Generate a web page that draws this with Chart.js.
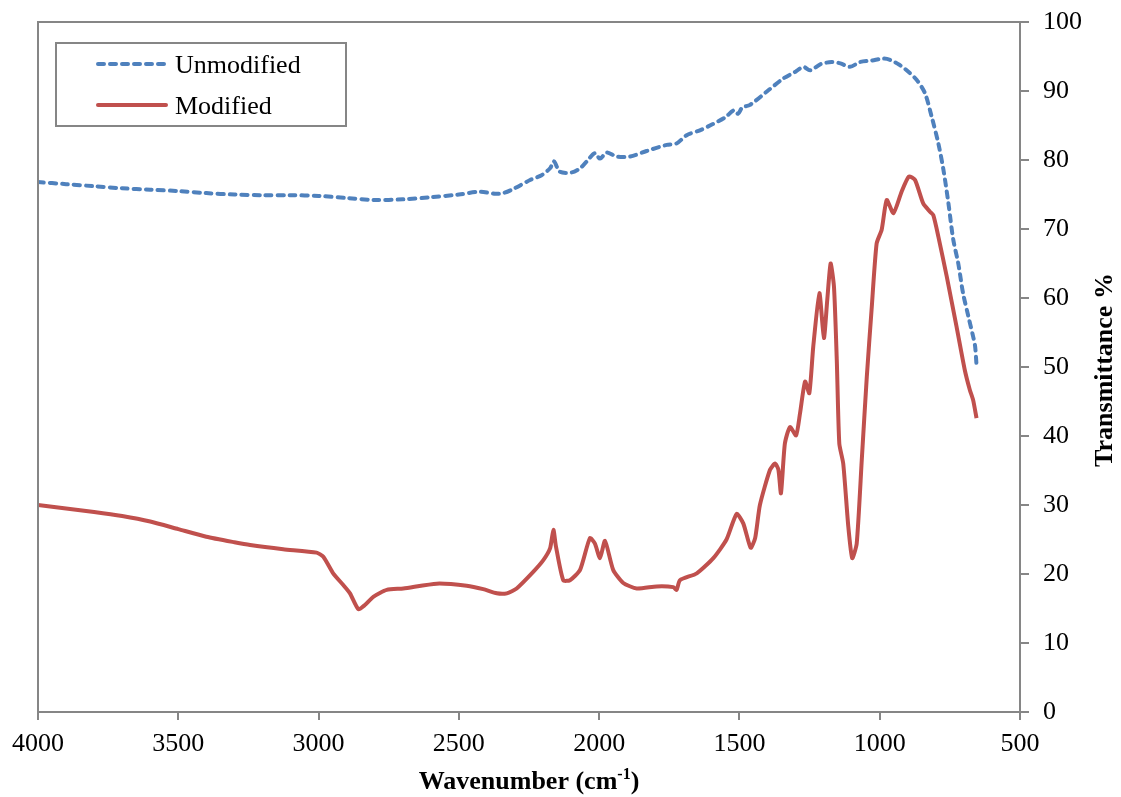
<!DOCTYPE html>
<html>
<head>
<meta charset="utf-8">
<title>FTIR spectra</title>
<script src="https://cdn.jsdelivr.net/npm/chart.js@4"></script>
<style>
  body { margin: 0; background: #fff; }
  #canvas { display: block; }
</style>
</head>
<body>
<canvas id="canvas" width="1121" height="797"></canvas>
<script>
// wavenumber (cm-1) and transmittance (%) for each sample
const unmodWave = [4000, 3900, 3800, 3700, 3600, 3500, 3400, 3300, 3200, 3100, 3000, 2900, 2800, 2700, 2600, 2500,
    2425, 2371, 2342, 2306, 2246, 2205, 2175, 2161, 2140, 2098, 2068, 2044, 2015, 1997, 1973, 1938, 1890, 1831,
    1759, 1724, 1688, 1641, 1600, 1550, 1520, 1505, 1490, 1462, 1400, 1344, 1300, 1272, 1248, 1210, 1171, 1140,
    1106, 1070, 1030, 987, 963, 930, 904, 868, 839, 815, 791, 773, 755, 738, 720, 703, 685, 667, 660, 655];
const unmodT = [76.8, 76.5, 76.2, 75.9, 75.7, 75.5, 75.2, 75.0, 74.9, 74.9, 74.8, 74.5, 74.2, 74.3, 74.6, 75.0,
    75.4, 75.1, 75.2, 75.8, 77.1, 77.8, 78.8, 79.8, 78.3, 78.2, 78.8, 79.8, 81.0, 80.2, 81.1, 80.5, 80.5, 81.3,
    82.2, 82.4, 83.6, 84.3, 85.1, 86.2, 87.2, 86.7, 87.6, 88.0, 90.0, 91.8, 92.8, 93.5, 93.0, 93.9, 94.2, 94.0,
    93.5, 94.2, 94.4, 94.7, 94.5, 93.8, 93.0, 91.6, 89.7, 86.3, 82.4, 78.6, 73.7, 68.5, 65.0, 60.7, 57.5, 54.4, 53.0, 50.3];

const modWave = [4000, 3900, 3800, 3700, 3600, 3500, 3400, 3300, 3244, 3126, 3007, 2983, 2948, 2912, 2888, 2858,
    2835, 2805, 2757, 2698, 2579, 2472, 2413, 2365, 2329, 2294, 2235, 2199, 2175, 2163, 2154, 2128, 2104, 2068,
    2033, 2015, 1997, 1979, 1950, 1914, 1866, 1795, 1736, 1724, 1712, 1652, 1593, 1546, 1510, 1486, 1460, 1444,
    1427, 1391, 1373, 1361, 1352, 1338, 1320, 1298, 1284, 1266, 1251, 1237, 1215, 1199, 1187, 1175, 1163, 1153,
    1144, 1130, 1112, 1098, 1082, 1064, 1046, 1029, 1011, 993, 975, 951, 922, 896, 874, 845, 821, 809, 791, 761,
    726, 697, 679, 667, 655];
const modT = [30.0, 29.5, 29.0, 28.4, 27.6, 26.5, 25.4, 24.6, 24.2, 23.6, 23.1, 22.5, 20.1, 18.4, 17.2, 14.9,
    15.5, 16.7, 17.7, 17.9, 18.6, 18.3, 17.8, 17.2, 17.2, 17.9, 20.3, 22.0, 23.7, 26.4, 24.0, 19.1, 19.1, 20.6,
    25.2, 24.4, 22.3, 24.8, 20.6, 18.7, 17.9, 18.2, 18.1, 17.7, 19.1, 20.1, 22.3, 25.0, 28.7, 27.3, 23.8, 25.2,
    30.0, 35.1, 36.0, 35.1, 31.7, 38.9, 41.3, 40.1, 43.3, 47.9, 46.2, 52.9, 60.7, 54.2, 59.7, 65.0, 61.6, 51.0,
    38.9, 36.0, 26.9, 22.3, 24.4, 36.5, 48.6, 58.3, 67.9, 69.9, 74.2, 72.3, 75.4, 77.6, 77.1, 73.7, 72.5, 72.0,
    68.9, 63.1, 55.8, 49.6, 46.7, 45.2, 42.6];

const xTicks = [4000, 3500, 3000, 2500, 2000, 1500, 1000, 500];
const yTicks = [0, 10, 20, 30, 40, 50, 60, 70, 80, 90, 100];

const seriesNames = ['Unmodified', 'Modified'];
const blue = '#4F81BD';
const red = '#C0504D';
const axisGrey = '#868686';
const serif = "'Liberation Serif', 'Times New Roman', serif";

function toPoints(xs, ys) {
    return xs.map((x, i) => ({ x: x, y: ys[i] }));
}

// box around the plot, legend inside it, and both axis titles
const decorations = {
    id: 'decorations',
    afterDraw(chart) {
        const ctx = chart.ctx;
        const area = chart.chartArea;
        ctx.save();

        ctx.strokeStyle = axisGrey;
        ctx.lineWidth = 2;
        ctx.strokeRect(area.left, area.top, area.right - area.left, area.bottom - area.top);

        // legend
        const lx = area.left + 18, ly = area.top + 21;
        ctx.fillStyle = '#fff';
        ctx.fillRect(lx, ly, 290, 83);
        ctx.strokeRect(lx, ly, 290, 83);
        chart.data.datasets.forEach((ds, i) => {
            const y = ly + 21 + i * 41;
            ctx.beginPath();
            ctx.strokeStyle = ds.borderColor;
            ctx.lineWidth = ds.borderWidth;
            ctx.lineCap = 'round';
            ctx.setLineDash(ds.borderDash || []);
            ctx.moveTo(lx + 42, y);
            ctx.lineTo(lx + 110, y);
            ctx.stroke();
            ctx.setLineDash([]);
            ctx.fillStyle = '#000';
            ctx.font = '26px ' + serif;
            ctx.textBaseline = 'alphabetic';
            ctx.textAlign = 'left';
            ctx.fillText(ds.label, lx + 119, y + 9);
        });

        // y title, reading upwards
        ctx.fillStyle = '#000';
        ctx.font = 'bold 26px ' + serif;
        ctx.textAlign = 'center';
        ctx.textBaseline = 'middle';
        ctx.translate(1105, (area.top + area.bottom) / 2 + 3);
        ctx.rotate(-Math.PI / 2);
        ctx.fillText('Transmittance %', 0, 0);
        ctx.setTransform(1, 0, 0, 1, 0, 0);

        // x title with superscript
        const big = 'bold 26px ' + serif, small = 'bold 16px ' + serif;
        const parts = [['Wavenumber (cm', big, 0], ['-1', small, -10], [')', big, 0]];
        let total = 0;
        parts.forEach(p => { ctx.font = p[1]; total += ctx.measureText(p[0]).width; });
        let x = (area.left + area.right) / 2 - total / 2;
        ctx.textAlign = 'left';
        ctx.textBaseline = 'alphabetic';
        parts.forEach(p => {
            ctx.font = p[1];
            ctx.fillText(p[0], x, 789 + p[2]);
            x += ctx.measureText(p[0]).width;
        });
        ctx.restore();
    }
};

const ctx = document.getElementById('canvas').getContext('2d');
const myChart = new Chart(ctx, {
    type: 'line',
    data: {
        datasets: [
            {
                label: seriesNames[0],
                data: toPoints(unmodWave, unmodT),
                borderColor: blue,
                borderWidth: 4,
                borderDash: [6, 6],
                borderCapStyle: 'round',
                pointRadius: 0,
                tension: 0.3,
                fill: false
            },
            {
                label: seriesNames[1],
                data: toPoints(modWave, modT),
                borderColor: red,
                borderWidth: 4,
                pointRadius: 0,
                tension: 0.2,
                fill: false
            }
        ]
    },
    options: {
        responsive: false,
        animation: false,
        layout: { padding: { left: 38, top: 22, right: 0, bottom: 0 } },
        plugins: {
            legend: { display: false },
            tooltip: { enabled: false }
        },
        scales: {
            x: {
                type: 'linear',
                reverse: true,
                min: 500,
                max: 4000,
                afterBuildTicks: scale => { scale.ticks = xTicks.map(v => ({ value: v })); },
                afterFit: scale => {
                    scale.height = 85;
                    scale.paddingLeft = 0;
                    scale.paddingRight = 0;
                },
                grid: { drawOnChartArea: false, drawTicks: true, tickLength: 8, color: axisGrey, lineWidth: 2 },
                border: { display: false },
                ticks: {
                    color: '#000', padding: 9, maxRotation: 0, autoSkip: false,
                    font: { family: serif, size: 26 },
                    callback: v => String(v)
                }
            },
            y: {
                position: 'right',
                min: 0,
                max: 100,
                afterBuildTicks: scale => { scale.ticks = yTicks.map(v => ({ value: v })); },
                afterFit: scale => {
                    scale.width = 101;
                    scale.paddingTop = 0;
                    scale.paddingBottom = 0;
                },
                grid: { drawOnChartArea: false, drawTicks: true, tickLength: 9, color: axisGrey, lineWidth: 2 },
                border: { display: false },
                ticks: { color: '#000', padding: 14, font: { family: serif, size: 26 } }
            }
        }
    },
    plugins: [decorations]
});
</script>
</body>
</html>
